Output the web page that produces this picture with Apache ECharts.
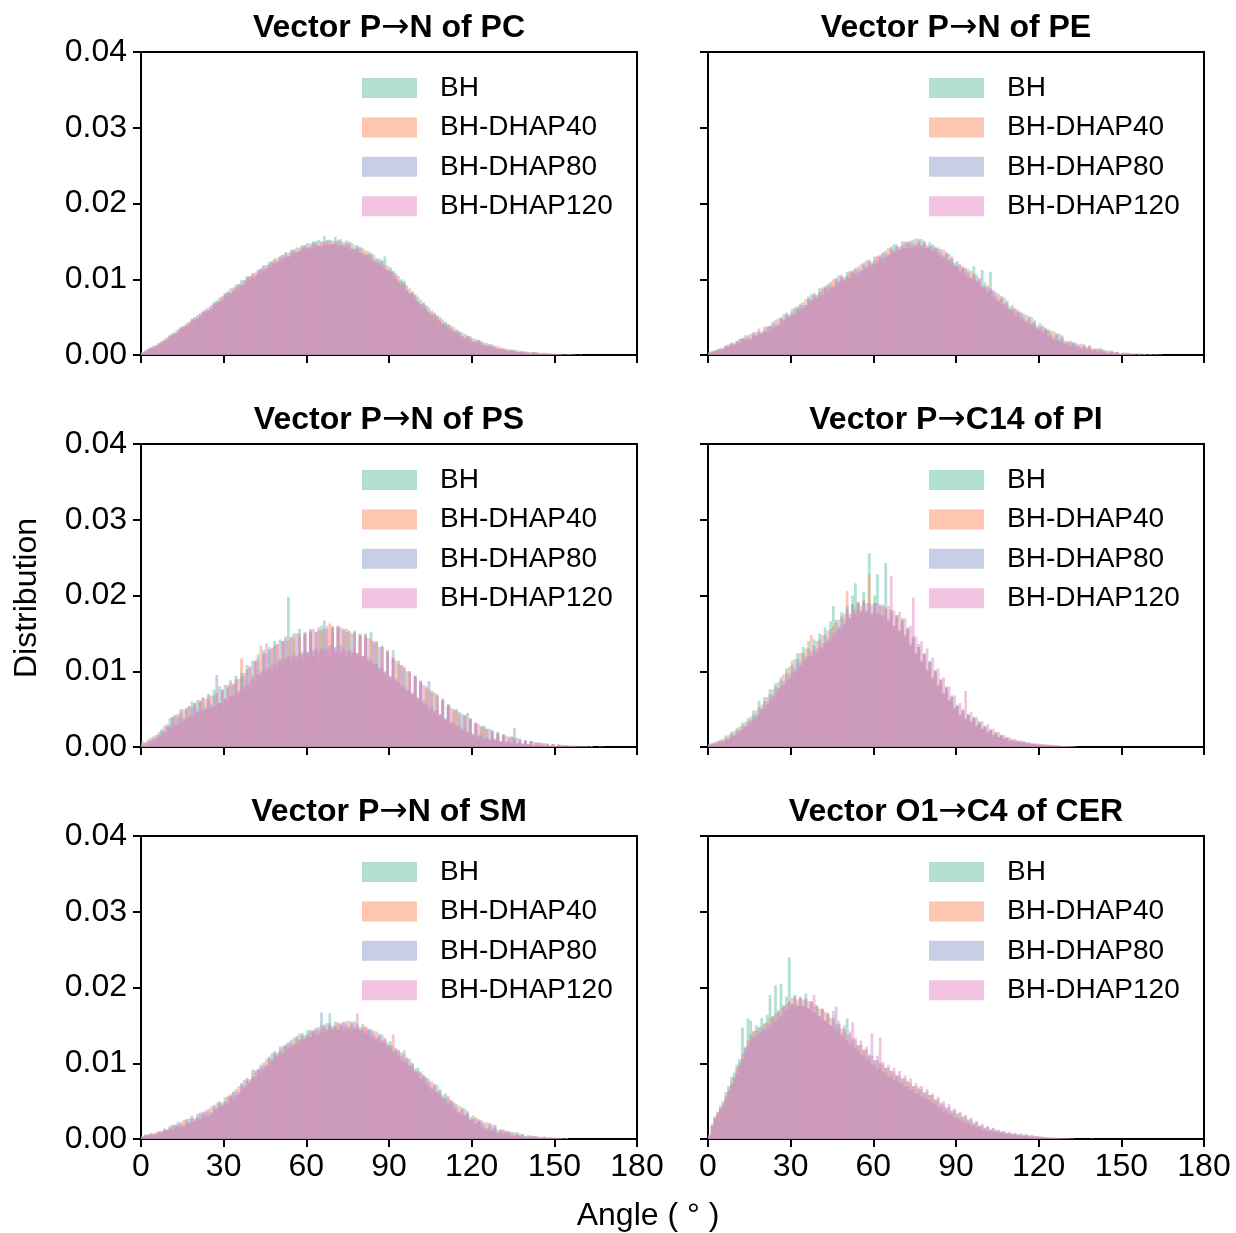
<!DOCTYPE html>
<html>
<head>
<meta charset="utf-8">
<script src="https://cdn.jsdelivr.net/npm/echarts@6/dist/echarts.min.js"></script>
<style>
html,body{margin:0;padding:0;background:#fff;}
#chart{width:1236px;height:1233px;}
</style>
</head>
<body>
<div id="chart"></div>
<script>
// Histogram values: 1-degree bins starting at 0 deg, in units of 1e-4 (density per degree)
const SERIES_NAMES = ['BH', 'BH-DHAP40', 'BH-DHAP80', 'BH-DHAP120'];
const PANEL_TITLES = [['Vector P', 'N of PC'], ['Vector P', 'N of PE'], ['Vector P', 'N of PS'],
  ['Vector P', 'C14 of PI'], ['Vector P', 'N of SM'], ['Vector O1', 'C4 of CER']];
const X_TICKS = [0, 30, 60, 90, 120, 150, 180];
const Y_TICKS = [0.00, 0.01, 0.02, 0.03, 0.04];

const PC_BH = [4,4,8,8,12,11,16,15,21,20, 26,25,31,30,37,35,42,40,48,45, 53,50,58,55,63,59,70,66,76,71,
 82,77,88,82,93,87,99,92,103,97, 108,101,113,107,118,111,123,115,127,120, 131,124,136,127,139,131,142,134,145,137,
 148,139,150,142,152,141,157,143,152,146, 156,142,153,141,151,139,148,137,145,134, 141,130,137,125,132,120,127,116,130,110,
 116,103,108,95,100,98,92,80,84,72, 77,65,70,58,63,52,56,46,50,40, 44,35,39,31,34,26,30,22,26,19,
 22,17,20,14,16,12,14,10,12,8, 10,6,8,5,7,4,6,4,5,3, 4,2,4,2,3,1,2,1,2,1, 1,1,2,0,1,1,0,1,0,1];
const PC_D40 = [2,6,6,10,9,13,13,18,18,23, 23,29,28,34,33,39,38,44,43,50, 48,55,53,60,58,66,64,72,70,78,
 76,84,81,89,86,94,92,99,97,104, 102,109,107,114,112,119,116,124,121,128, 125,132,129,135,132,139,135,142,138,145,
 141,147,143,149,144,150,145,150,146,151, 146,150,145,149,143,147,140,145,137,141, 134,138,129,133,124,128,119,124,114,118,
 108,111,100,104,92,96,84,88,77,80, 69,73,62,66,55,59,49,53,43,47, 37,41,33,37,28,32,24,28,21,25,
 17,21,15,19,13,16,11,14,9,12, 7,9,6,8,5,7,4,6,3,5, 2,4,2,4,1,3,1,2,1,2, 1,1,0,1,1,0,1,0,0,0];
const PC_D80 = [3,5,8,10,9,11,15,18,18,20, 26,28,28,30,36,38,38,40,47,49, 48,51,57,60,58,61,68,71,70,73,
 80,83,81,84,90,93,92,94,101,104, 102,104,111,114,112,114,120,123,121,123, 129,132,129,130,136,139,135,137,142,145,
 141,142,147,150,144,144,149,152,146,146, 150,152,145,145,147,150,140,140,141,143, 134,132,133,135,124,122,123,125,114,112,
 113,110,101,97,97,94,85,81,82,79, 70,67,67,64,57,53,54,51,45,41, 42,40,34,31,32,30,25,22,25,23,
 18,16,19,17,13,11,14,12,9,8, 9,8,6,5,7,6,4,3,5,4, 2,2,4,3,1,1,3,2,1,1, 1,1,1,0,0,1,0,0,0,0];
const PC_D120 = [3,4,6,9,11,13,14,16,19,23, 25,26,28,33,35,36,39,43,46,46, 49,54,56,57,59,64,67,68,71,76,
 79,80,82,87,90,90,93,98,104,100, 107,105,108,112,118,115,117,119,126,124, 126,128,134,131,133,137,136,138,143,141,
 142,143,148,145,144,149,146,146,151,147, 147,146,150,145,143,146,141,140,142,136, 135,133,134,128,125,126,120,118,119,113,
 110,106,105,98,94,93,86,82,82,75, 71,68,67,61,57,56,51,48,47,42, 39,37,36,32,29,29,25,23,24,20,
 18,17,18,14,13,14,11,10,11,8, 7,7,7,6,5,6,4,4,4,3, 3,2,3,2,2,2,1,1,1,1, 1,1,1,0,0,1,0,0,0,0];

const PE_BH = [4,3,6,5,9,8,10,14,12,16, 19,16,22,19,26,23,24,31,27,31, 37,31,38,34,46,40,41,54,47,54,
 61,54,62,57,70,66,66,80,73,80, 88,80,89,83,97,92,91,105,97,103, 110,102,110,104,117,112,111,125,117,123,
 130,122,130,125,138,133,132,146,137,143, 150,141,148,140,152,146,142,153,142,145, 149,137,141,131,140,131,125,134,121,122,
 124,111,115,104,113,103,117,106,93,112, 96,83,110,75,83,73,67,76,63,64, 66,53,57,46,55,45,40,50,37,39,
 42,30,34,23,32,23,18,28,17,19, 18,13,16,11,14,10,9,11,8,9, 8,5,7,4,6,3,4,4,3,2, 3,1,2,1,2,0,1,1,1,1,
 1,0,1,1,0,0,0,0,0,0];
const PE_D40 = [2,5,5,6,6,10,11,11,15,14, 15,21,21,19,18,28,27,24,31,28, 30,38,37,37,35,48,47,45,54,51,
 52,63,61,61,59,74,73,70,80,76, 79,89,88,87,86,100,98,94,104,99, 101,111,109,108,106,120,118,114,124,119,
 121,131,129,129,127,141,139,135,144,139, 141,150,147,144,141,154,149,142,149,141, 140,146,140,135,129,139,132,123,128,118,
 115,120,114,108,102,111,104,95,100,90, 87,92,85,79,72,81,74,65,70,60, 57,62,56,50,44,53,47,39,44,35,
 33,39,33,27,21,31,25,17,24,15, 14,19,15,11,8,15,11,6,12,6, 5,9,6,4,3,6,4,2,4,1, 1,3,2,1,0,2,1,0,1,0,
 0,1,0,0,1,0,0,0,0,0];
const PE_D80 = [3,3,6,7,7,8,12,11,15,13, 18,15,22,23,21,20,29,26,30,27, 33,30,39,41,38,39,50,47,52,50,
 56,53,64,66,62,63,77,73,78,75, 83,79,91,92,89,89,102,97,102,98, 105,101,112,113,109,109,122,117,122,118,
 125,121,132,134,130,131,143,138,142,138, 145,140,150,149,144,143,153,145,147,140, 144,136,143,140,132,128,136,126,126,117,
 119,110,117,113,105,100,108,98,98,89, 91,82,88,84,75,70,78,68,68,59, 61,52,59,55,47,42,51,42,42,34,
 37,29,36,32,24,20,29,20,22,14, 17,11,17,15,10,7,14,8,10,5, 8,3,9,7,3,1,6,2,4,1, 3,1,3,2,1,0,2,1,1,0,
 1,0,1,0,0,0,0,0,0,0];
const PE_D120 = [2,5,3,8,8,7,13,11,17,14, 15,21,15,26,24,20,30,24,35,28, 30,37,31,44,42,39,49,45,56,51,
 53,61,55,68,66,64,75,71,82,77, 80,87,82,94,93,90,100,95,106,100, 102,109,103,115,113,110,120,115,126,120,
 122,129,123,136,134,131,141,136,146,140, 142,148,141,151,148,144,151,143,151,142, 141,144,134,142,136,129,134,124,130,119,
 116,118,108,115,109,101,106,96,102,91, 88,90,79,86,79,71,76,66,72,61, 58,60,50,57,51,43,49,40,46,36,
 34,37,27,34,28,21,27,18,26,16, 15,17,11,16,13,9,13,7,13,7, 6,8,4,7,5,3,5,2,4,1, 1,3,1,2,1,0,2,0,1,0,
 1,0,0,0,0,0,0,0,0,0];

const PS_BH = [8,2,4,12,6,16,10,24,18,30, 38,24,42,30,50,34,52,38,60,42, 62,44,66,48,70,50,76,52,80,56,
 82,58,88,64,94,68,98,72,108,80, 114,86,122,90,128,96,132,100,140,104, 142,108,146,198,112,150,114,156,116,150,
 118,156,120,152,116,160,167,124,118,158, 122,160,124,156,120,154,118,152,120,148, 116,150,112,152,106,140,100,134,94,128,
 88,128,84,114,78,106,72,100,68,94, 60,88,56,80,50,74,44,68,40,62, 34,56,30,50,26,46,22,42,18,38,
 14,32,12,28,10,24,8,22,8,18, 6,16,5,14,4,12,3,10,3,8, 2,8,2,6,1,5,1,5,1,4, 1,3,0,3,0,2,0,2,0,1,
 0,1,0,1,0,0,0,1,0,0];
const PS_D40 = [2,6,10,4,14,8,20,12,28,18, 24,40,28,44,32,50,36,54,40,58, 46,60,48,64,50,68,54,70,58,76,
 62,80,66,84,70,90,117,94,82,106, 90,114,96,134,100,124,104,130,108,136, 114,138,116,140,118,144,120,146,122,148,
 124,150,124,152,126,154,128,156,163,150, 126,158,126,154,124,152,124,150,122,148, 120,146,114,142,110,138,104,132,98,126,
 92,118,88,110,82,104,76,98,70,92, 64,84,58,78,52,72,46,66,42,60, 36,54,32,48,28,44,24,40,20,36,
 16,30,14,26,12,24,10,20,9,16, 7,15,6,12,5,11,4,9,3,8, 3,7,2,6,2,5,1,4,1,4, 1,3,1,2,0,2,1,1,0,2,
 0,1,0,1,0,0,1,0,0,0];
const PS_D80 = [4,3,6,9,9,13,15,21,20,27, 29,38,30,40,44,38,50,42,52,56, 48,60,50,52,64,56,68,95,58,74,
 64,78,68,82,88,74,92,80,102,86, 94,112,96,100,122,104,128,108,134,112, 116,140,118,120,144,122,150,124,126,150,
 126,152,128,130,154,130,156,132,134,158, 132,156,134,130,152,128,150,126,124,146, 120,144,118,114,138,110,132,104,100,124,
 94,116,90,86,108,80,100,76,72,94, 66,86,62,58,87,54,72,48,44,64, 38,56,34,32,50,28,44,26,45,36,
 18,32,16,15,28,13,24,12,11,20, 8,17,7,7,14,25,12,5,5,9, 4,8,3,3,6,2,5,2,2,4, 1,3,1,1,2,1,2,1,1,1,
 1,1,0,1,0,0,0,0,0,0];
const PS_D120 = [3,6,7,8,11,11,17,18,22,27, 26,40,42,30,48,34,38,54,40,58, 46,62,64,50,68,52,54,72,58,76,
 62,82,84,68,90,72,76,98,82,106, 88,114,116,96,124,137,104,130,108,136, 112,140,142,116,146,118,120,150,122,152,
 124,154,156,126,158,128,128,160,130,160, 130,160,158,128,156,126,126,154,124,150, 120,148,144,114,140,108,104,132,98,126,
 92,118,114,84,108,78,76,100,70,94, 64,86,82,56,76,50,48,70,42,62, 36,56,52,30,48,26,24,42,20,38,
 16,32,30,13,26,11,10,22,9,19, 7,16,15,6,13,5,5,11,4,9, 4,8,7,2,6,2,2,4,1,3, 1,3,3,1,2,1,1,1,1,0,
 1,0,1,0,0,0,0,0,0,0];

const PI_BH = [4,2,7,4,10,6,15,10,20,14, 25,18,32,24,38,36,48,38,61,50, 66,56,76,64,84,78,92,82,104,92,
 114,98,124,106,132,116,140,120,142,126, 150,130,158,138,166,186,168,156,178,162, 186,170,200,216,190,178,205,180,256,176,
 200,228,174,186,243,166,182,160,174,150, 170,146,158,132,146,122,136,112,124,100, 114,90,102,80,90,70,80,60,68,50,
 56,42,50,36,44,32,40,28,34,24, 28,20,24,16,20,13,16,11,13,9, 10,7,8,6,7,5,6,4,5,3,
 4,2,3,2,3,1,2,1,1,1, 1,1,0,1,0,0,0,0,0,0];
const PI_D40 = [2,5,4,8,6,11,9,16,13,21, 17,27,22,33,28,40,34,48,42,56, 52,66,60,76,68,86,78,96,84,106,
 94,116,100,124,108,130,114,148,120,140, 128,148,134,154,140,160,148,168,154,176, 206,170,188,174,192,178,194,176,228,174,
 190,174,188,170,184,166,180,160,174,154, 168,146,156,134,144,124,132,112,122,100, 112,90,100,80,88,70,78,60,66,50,
 54,42,48,36,42,32,38,28,32,24, 26,20,22,16,18,13,15,11,12,8, 9,7,8,6,7,5,5,4,4,3,
 3,3,3,2,2,2,2,1,1,1, 1,0,1,0,0,0,0,0,0,0];
const PI_D80 = [3,5,4,7,8,8,12,11,17,16, 22,21,28,27,34,32,42,40,52,50, 60,56,70,66,80,74,88,82,98,90,
 108,100,116,108,124,116,130,120,134,124, 142,132,148,140,156,146,164,156,172,162, 182,170,188,176,190,180,192,178,190,176,
 190,176,186,172,182,168,178,160,172,154, 166,148,156,136,144,124,132,114,122,102, 112,92,100,82,88,72,78,62,66,52,
 54,42,48,38,42,34,38,28,32,24, 26,20,22,16,18,13,15,11,12,8, 9,7,8,6,7,5,5,4,4,3,
 3,3,3,2,2,2,2,1,1,1, 1,1,0,0,0,0,0,0,0,0];
const PI_D120 = [3,3,5,6,6,8,9,11,14,15, 17,22,23,28,29,34,36,42,44,51, 52,60,62,69,70,78,80,87,89,96,
 98,104,106,112,114,120,121,126,127,131, 132,137,138,144,145,150,152,160,160,168, 170,176,174,182,178,186,182,190,180,188,
 180,190,176,188,174,186,226,180,168,178, 160,170,150,160,197,146,128,140,118,130, 106,118,94,104,84,92,72,80,60,68,
 50,58,44,74,40,46,36,40,30,34, 26,30,22,24,18,20,15,16,12,13, 9,11,7,9,6,7,5,6,4,5,
 3,4,3,3,2,2,2,2,1,1, 1,1,1,0,0,0,0,0,0,0];

const SM_BH = [4,3,5,5,7,7,7,11,10,13, 17,13,17,15,22,19,19,27,23,27, 33,27,34,28,40,35,35,48,42,48,
 55,48,57,52,66,62,63,78,72,79, 92,82,91,87,101,98,98,113,107,114, 122,114,123,117,131,126,125,139,131,137,
 144,135,142,136,148,142,140,153,166,149, 155,145,151,144,155,148,144,155,145,148, 152,140,144,134,143,134,128,138,125,127,
 129,116,118,107,114,104,97,106,92,93, 94,80,83,71,79,68,62,71,57,58, 60,47,50,38,46,36,31,40,28,29,
 31,20,24,15,22,14,11,19,11,12, 13,7,9,6,9,5,3,7,3,4, 5,2,3,1,3,2,1,2,1,1, 2,1,1,0,1,0,0,0,0,0];
const SM_D40 = [2,6,5,5,4,9,9,8,13,11, 12,19,17,16,14,25,23,20,28,24, 26,35,33,31,29,43,41,38,48,44,
 46,57,56,56,55,70,70,67,79,75, 79,91,90,91,90,106,105,102,114,110, 113,123,122,121,120,134,132,128,138,133,
 135,144,141,140,137,150,147,142,151,145, 146,154,150,148,144,156,151,144,152,144, 143,149,143,138,132,142,135,127,132,123,
 120,138,117,111,103,112,104,95,99,89, 85,89,82,75,68,76,69,60,64,54, 51,57,49,42,35,44,38,29,35,25,
 23,29,23,18,12,22,17,10,17,8, 8,13,9,6,4,9,6,3,6,2, 2,5,3,2,1,3,2,1,2,1, 1,2,0,1,0,0,0,0,0,0];
const SM_D80 = [3,3,6,7,5,5,10,9,12,11, 15,12,19,20,17,16,26,22,27,23, 29,25,36,36,32,32,45,41,46,43,
 50,47,59,61,58,59,74,70,77,74, 83,81,93,96,93,95,109,105,112,109, 117,113,125,126,123,123,136,131,136,132,
 139,134,144,145,140,167,151,145,149,144, 150,144,153,153,147,145,155,147,150,143, 147,139,146,143,135,131,139,130,130,122,
 124,115,120,116,106,101,108,98,97,88, 89,79,85,80,71,65,73,63,62,53, 55,46,52,47,38,33,42,32,33,24,
 27,20,26,23,15,11,21,13,15,7, 11,6,11,10,5,3,9,4,6,2, 4,2,4,4,1,1,3,1,2,0, 1,1,1,0,1,0,0,0,0,0];
const SM_D120 = [2,5,3,8,7,5,10,9,14,12, 12,18,12,23,20,16,26,20,31,24, 26,33,27,38,36,33,43,39,50,45,
 47,55,50,63,62,60,72,68,81,76, 80,89,84,98,97,96,107,103,116,111, 114,121,116,128,127,124,134,129,140,134,
 136,142,135,147,144,140,149,143,153,146, 147,152,144,155,151,146,153,145,166,145, 144,147,137,145,139,132,137,128,134,124,
 121,123,111,118,110,117,106,96,101,90, 86,87,76,82,75,66,71,61,66,55, 52,54,43,49,42,34,40,30,37,26,
 24,27,17,25,19,12,19,11,19,9, 9,11,6,10,8,5,7,4,6,3, 2,4,2,3,2,1,3,1,2,1, 1,1,1,0,1,0,0,0,0,0];

const CER_BH = [4,16,30,36,44,50,62,70,82,88, 98,106,147,122,159,156,142,150,148,160, 153,164,190,162,203,170,205,176,188,240,
 178,190,176,188,174,192,172,180,166,176, 162,170,156,164,150,158,142,150,136,142, 159,124,132,116,124,110,118,104,112,98,
 104,92,100,88,94,82,90,78,84,74, 80,70,76,64,70,60,68,56,62,52, 58,48,52,42,48,36,42,32,38,28,
 34,24,30,20,26,17,22,14,18,12, 15,10,13,9,12,7,10,6,8,6, 7,5,6,4,6,3,5,2,4,2,
 3,1,2,1,2,1,1,0,1,0];
const CER_D40 = [6,20,27,35,41,47,57,66,74,82, 94,97,112,114,130,130,142,134,146,140, 152,144,160,152,166,158,172,164,178,170,
 186,176,184,176,184,174,182,168,178,164, 172,158,168,152,160,146,152,140,146,132, 138,126,132,120,124,112,118,104,110,98,
 104,92,100,88,94,82,90,78,84,74, 80,70,76,64,70,60,66,56,60,52, 58,46,52,42,46,36,40,32,36,28,
 32,26,28,22,24,18,20,16,16,12, 14,11,12,10,10,8,8,7,7,6, 6,5,5,4,4,4,3,3,2,2,
 2,2,1,1,1,1,1,1,0,0, 1,0,0,0,0,0,0,0,0,1];
const CER_D80 = [4,17,28,32,40,45,54,63,71,80, 86,101,104,120,122,138,134,143,138,148, 144,154,150,162,156,168,162,176,170,182,
 178,188,176,186,176,184,172,182,168,176, 162,172,156,166,150,160,175,152,136,146, 130,138,124,130,116,124,110,118,104,110,
 96,104,92,98,86,94,82,88,78,84, 72,80,68,74,64,70,60,66,54,62, 50,58,44,52,40,46,36,42,32,38,
 28,34,24,30,20,26,18,22,16,18, 12,16,10,14,9,12,8,10,7,9, 6,8,5,7,4,6,3,5,3,4,
 2,3,2,2,1,2,1,1,1,1, 0,1,0,0,0,0,0,0,0,0];
const CER_D120 = [5,18,27,33,39,45,54,62,70,79, 87,96,105,114,123,131,135,138,141,143, 142,152,148,160,154,166,160,174,168,180,
 176,186,176,186,174,186,172,182,190,172, 160,172,156,166,150,169,146,156,140,150, 132,142,154,134,120,130,112,122,108,140,
 98,110,134,102,88,98,84,94,80,90, 74,84,70,80,66,74,62,70,58,66, 52,60,48,56,42,50,38,46,34,40,
 28,36,24,32,22,28,18,24,16,20, 13,17,11,15,10,12,9,11,7,9, 6,8,5,7,4,6,3,5,3,4,
 3,3,2,2,2,1,1,1,1,1, 1,0,1,0,0,0,0,0,0,0];

const PANELS = [
  [PC_BH, PC_D40, PC_D80, PC_D120],
  [PE_BH, PE_D40, PE_D80, PE_D120],
  [PS_BH, PS_D40, PS_D80, PS_D120],
  [PI_BH, PI_D40, PI_D80, PI_D120],
  [SM_BH, SM_D40, SM_D80, SM_D120],
  [CER_BH, CER_D40, CER_D80, CER_D120]
];

const NBINS = 180;
const BINS = [];
for (let i = 0; i < NBINS; i++) BINS.push(String(i));

const COLORS = ['rgba(102,194,165,0.5)', 'rgba(252,141,98,0.5)', 'rgba(141,160,203,0.5)', 'rgba(231,138,195,0.5)'];
const FONT = 'Liberation Sans, Arial, Helvetica, sans-serif';

const GRID_LEFT = [141, 708];
const GRID_TOP = [52, 444, 836];
const GRID_W = 496, GRID_H = 303;

const grids = [], xAxes = [], yAxes = [], series = [], legends = [], graphics = [];

PANELS.forEach((panel, i) => {
  const row = Math.floor(i / 2), col = i % 2;
  const left = GRID_LEFT[col], top = GRID_TOP[row];
  grids.push({left: left, top: top, width: GRID_W, height: GRID_H, containLabel: false,
    show: true, borderColor: '#000', borderWidth: 2, backgroundColor: 'transparent'});
  xAxes.push({type: 'category', gridIndex: i, data: BINS, show: false, boundaryGap: true});
  xAxes.push({type: 'value', gridIndex: i, min: X_TICKS[0], max: X_TICKS[X_TICKS.length - 1], interval: 30,
    position: 'bottom',
    axisLine: {show: true, onZero: false, lineStyle: {color: '#000', width: 2}},
    axisTick: {show: true, inside: false, length: 8, lineStyle: {color: '#000', width: 2}},
    axisLabel: {show: row === 2, color: '#000', fontSize: 32, fontFamily: FONT, margin: 12},
    splitLine: {show: false}});
  yAxes.push({type: 'value', gridIndex: i, min: Y_TICKS[0], max: Y_TICKS[Y_TICKS.length - 1], interval: 0.01,
    axisLine: {show: true, lineStyle: {color: '#000', width: 2}},
    axisTick: {show: true, inside: false, length: 8, lineStyle: {color: '#000', width: 2}},
    axisLabel: {show: col === 0, color: '#000', fontSize: 32, fontFamily: FONT, margin: 14,
      formatter: v => v.toFixed(2)},
    splitLine: {show: false}});
  panel.forEach((arr, k) => {
    series.push({
      type: 'bar', name: SERIES_NAMES[k], xAxisIndex: 2 * i, yAxisIndex: i,
      data: arr.map(v => v / 10000),
      barGap: '-100%', barCategoryGap: '0%',
      itemStyle: {color: COLORS[k]},
      silent: true, animation: false
    });
  });
  legends.push({
    data: SERIES_NAMES, orient: 'vertical', left: left + 221, top: top + 22,
    padding: 0, itemWidth: 55, itemHeight: 20, itemGap: 11.4, icon: 'rect',
    selectedMode: false,
    textStyle: {fontSize: 28, fontFamily: FONT, color: '#000', lineHeight: 28, padding: [0, 0, 0, 18]}
  });
  graphics.push({
    type: 'text', x: left + GRID_W / 2, y: top - 24,
    style: {text: PANEL_TITLES[i][0] + '{a|\u2192}' + PANEL_TITLES[i][1],
      font: 'bold 32px ' + FONT, fill: '#000', align: 'center', verticalAlign: 'middle',
      rich: {a: {fontFamily: 'DejaVu Sans', fontSize: 34, fontWeight: 'normal', fill: '#000'}}}
  });
});

graphics.push({type: 'text', x: 27, y: 598, rotation: Math.PI / 2,
  style: {text: 'Distribution', font: '32px ' + FONT, fill: '#000', align: 'center', verticalAlign: 'middle'}});
graphics.push({type: 'text', x: 648, y: 1216,
  style: {text: 'Angle ( \u00b0 )', font: '32px ' + FONT, fill: '#000', align: 'center', verticalAlign: 'middle'}});

const chart = echarts.init(document.getElementById('chart'), null, {renderer: 'canvas'});
chart.setOption({
  backgroundColor: '#fff',
  animation: false,
  grid: grids, xAxis: xAxes, yAxis: yAxes, series: series, legend: legends, graphic: graphics
});
</script>
</body>
</html>
